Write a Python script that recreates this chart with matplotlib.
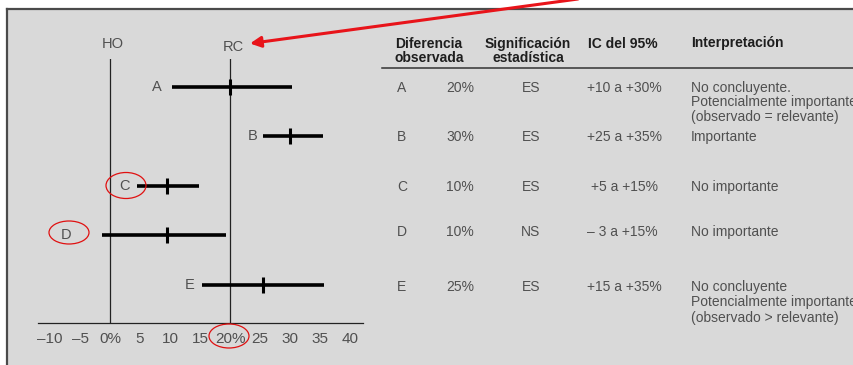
import matplotlib
matplotlib.use("Agg")
import matplotlib.pyplot as plt
from matplotlib.patches import Rectangle, Ellipse

plt.rcParams["font.family"] = ["Liberation Sans", "DejaVu Sans"]

# values
studies = ["A", "B", "C", "D", "E"]
point = [20, 30, 9.5, 9.5, 25.5]
ci_low = [10.3, 25.5, 4.5, -1.4, 15.4]
ci_high = [30.3, 35.5, 14.8, 19.4, 35.7]
xticks = [-10, -5, 0, 5, 10, 15, 20, 25, 30, 35, 40]
xticklabels = ["–10", "–5", "0%", "5", "10", "15", "20%", "25", "30", "35", "40"]

# table
diff_obs = ["20%", "30%", "10%", "10%", "25%"]
signif = ["ES", "ES", "ES", "NS", "ES"]
ic95 = ["+10 a +30%", "+25 a +35%", "+5 a +15%", "– 3 a +15%", "+15 a +35%"]
interp = [
    ["No concluyente.", "Potencialmente importante", "(observado = relevante)"],
    ["Importante"],
    ["No importante"],
    ["No importante"],
    ["No concluyente", "Potencialmente importante", "(observado > relevante)"],
]

W, H = 854, 365
gray_txt = "#505050"

fig = plt.figure(figsize=(W / 100, H / 100), dpi=100)

# background panel
bg = fig.add_axes([0, 0, 1, 1], zorder=0)
bg.set_xlim(0, W)
bg.set_ylim(H, 0)
bg.axis("off")
bg.add_patch(Rectangle((7, 8.5), W, H, facecolor="#d9d9d9", edgecolor="none"))
bg.plot([7, W], [8.5, 8.5], color="#4a4a4a", lw=1.6)
bg.plot([7, 7], [8.5, H], color="#4a4a4a", lw=1.6)

# forest plot
px0, px_per = 110, 6.0
left, right = 38, 363
bottom, top = 322.7, 59.3
ax = fig.add_axes([left / W, (H - bottom) / H, (right - left) / W, (bottom - top) / H],
                  zorder=2)
ax.set_facecolor("none")
ax.set_xlim((left - px0) / px_per, (right - px0) / px_per)
ax.set_ylim(-0.76, 4.55)
for s in ["top", "left", "right"]:
    ax.spines[s].set_visible(False)
ax.spines["bottom"].set_color("#222222")
ax.spines["bottom"].set_linewidth(0.9)
ax.set_yticks([])
ax.set_xticks(xticks)
ax.set_xticklabels(xticklabels)
ax.tick_params(axis="x", length=0, pad=7, labelsize=11, labelcolor=gray_txt)

for ref, lab, dy in [(0, "HO", 6), (20, "RC", 4)]:
    ax.axvline(ref, color="#222222", lw=0.9)
    ax.annotate(lab, xy=(ref, 1), xycoords=("data", "axes fraction"),
                xytext=(2.2, dy), textcoords="offset points",
                ha="center", va="bottom", fontsize=10.5, color=gray_txt)

label_gap = [7, 4, 5, 22, 6]
for i, s in enumerate(studies):
    y = 4 - i
    ax.plot([ci_low[i], ci_high[i]], [y, y], color="black", lw=2.6,
            solid_capstyle="butt")
    ax.plot(point[i], y, marker="|", color="black", markersize=12,
            markeredgewidth=2.2)
    ax.annotate(s, xy=(ci_low[i], y), xytext=(-label_gap[i], 0),
                textcoords="offset points", ha="right", va="center",
                fontsize=10.5, color=gray_txt)

# overlay: table, ellipses, arrow
ov = fig.add_axes([0, 0, 1, 1], zorder=3)
ov.set_facecolor("none")
ov.set_xlim(0, W)
ov.set_ylim(H, 0)
ov.axis("off")

hdr = dict(fontsize=10, fontweight="bold", color="#1e1e1e", va="center",
           linespacing=0.95)
ov.text(395, 51, "Diferencia\nobservada", ha="left", **hdr)
ov.text(528, 51, "Significación\nestadística", ha="center", **hdr)
ov.text(588, 43.5, "IC del 95%", ha="left", **hdr)
ov.text(691, 43.5, "Interpretación", ha="left", **hdr)
ov.plot([382, W], [67.5, 67.5], color="#333333", lw=1.1)

row_y = [87.7, 136.7, 186.7, 231.7, 286.7]
line_h = [14.5, 14.5, 14.5, 14.5, 15.5]
body = dict(fontsize=10, color=gray_txt, va="center")
for i, s in enumerate(studies):
    y = row_y[i]
    ov.text(397, y, s, ha="left", **body)
    ov.text(446, y, diff_obs[i], ha="left", **body)
    ov.text(531, y, signif[i], ha="center", **body)
    ov.text(587 if i != 2 else 591, y, ic95[i], ha="left", **body)
    for j, t in enumerate(interp[i]):
        ov.text(691, y + j * line_h[i], t, ha="left", **body)

for cx, cy, w, h in [(126, 185.5, 40, 26), (69, 232.5, 40, 23), (229, 336, 40, 24)]:
    ov.add_patch(Ellipse((cx, cy), w, h, facecolor="none", edgecolor="#e01010", lw=0.9))

ov.annotate("", xy=(250, 43.5), xytext=(578, -1),
            arrowprops=dict(arrowstyle="-|>", color="#e8141a", lw=2.2,
                            mutation_scale=16, shrinkA=0, shrinkB=0))

fig.savefig("out.png", dpi=100)
